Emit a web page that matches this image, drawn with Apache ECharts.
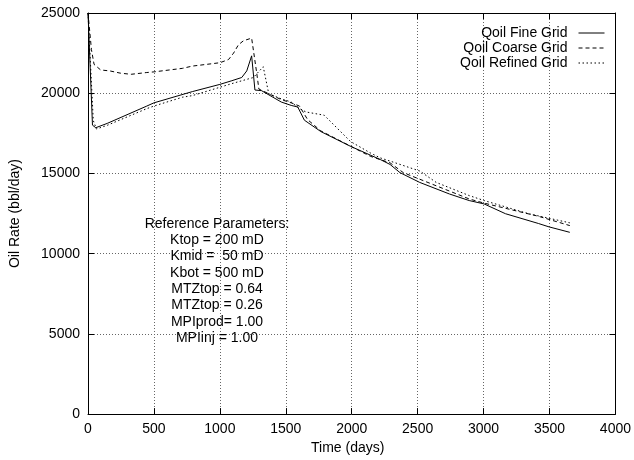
<!DOCTYPE html>
<html>
<head>
<meta charset="utf-8">
<script src="https://cdn.jsdelivr.net/npm/echarts@6/dist/echarts.min.js"></script>
<style>html,body{margin:0;padding:0;background:#fff}#c{width:634px;height:460px}</style>
</head>
<body>
<div id="c"></div>
<script>
// ---- data ----
var xTicks = [0, 500, 1000, 1500, 2000, 2500, 3000, 3500, 4000];
var yTicks = [0, 5000, 10000, 15000, 20000, 25000];

var fineT = [0, 34, 59, 146, 446, 500, 791, 1000, 1091, 1166, 1204, 1241, 1266, 1316, 1466, 1541, 1591, 1641, 1766, 1991, 2216, 2291, 2366, 2516, 2741, 2891, 3004, 3166, 3416, 3496, 3654];
var fineQ = [25000, 18010, 17850, 18120, 19200, 19400, 20100, 20550, 20780, 20980, 21390, 22330, 20200, 20160, 19450, 19240, 19140, 18320, 17610, 16690, 15870, 15560, 15050, 14440, 13720, 13310, 13100, 12490, 11880, 11670, 11330];

var coarseT = [0, 26, 46, 96, 166, 246, 327, 446, 500, 716, 791, 1000, 1066, 1104, 1141, 1179, 1241, 1279, 1296, 1350, 1466, 1541, 1604, 1666, 1766, 1991, 2141, 2291, 2391, 2516, 2891, 3004, 3416, 3654];
var coarseQ = [25000, 22720, 21800, 21450, 21390, 21250, 21180, 21290, 21330, 21550, 21690, 21900, 22100, 22500, 23020, 23270, 23435, 21290, 20260, 20050, 19600, 19400, 19200, 18350, 17650, 16700, 16070, 15660, 15050, 14640, 13410, 13150, 12330, 11750];

var refinedT = [0, 40, 64, 146, 446, 500, 716, 791, 1000, 1091, 1254, 1329, 1371, 1466, 1541, 1604, 1654, 1791, 1841, 1991, 2141, 2216, 2291, 2516, 2641, 2891, 3004, 3341, 3654];
var refinedQ = [25000, 18300, 17770, 18000, 19040, 19200, 19750, 19850, 20370, 20600, 20980, 21650, 19960, 19650, 19450, 19040, 18830, 18630, 18220, 16990, 16280, 15970, 15770, 15150, 14440, 13620, 13310, 12490, 11920];

var seriesNames = ['Qoil Fine Grid', 'Qoil Coarse Grid', 'Qoil Refined Grid'];
var paramLines = ['Reference Parameters:', 'Ktop = 200 mD', 'Kmid =  50 mD', 'Kbot = 500 mD', 'MTZtop = 0.64', 'MTZtop = 0.26', 'MPIprod= 1.00', 'MPIinj = 1.00'];
var xName = 'Time (days)';
var yName = 'Oil Rate (bbl/day)';

function pairs(t, q) { return t.map(function (v, i) { return [v, q[i]]; }); }

var FONT = 'Liberation Sans';
var chart = echarts.init(document.getElementById('c'), null, { renderer: 'canvas' });

var gridLine = { show: true, lineStyle: { color: '#666', width: 1, type: [1, 2] } };
var axLine = { show: true, onZero: false, lineStyle: { color: '#000', width: 1 } };
var tick = { show: true, inside: true, length: 6, lineStyle: { color: '#000' } };
var lbl = { color: '#000', fontFamily: FONT, fontSize: 14, formatter: function (v) { return String(v); } };

var styles = [
  { color: '#000', width: 1, type: 'solid' },
  { color: '#000', width: 1, type: [4, 3] },
  { color: '#000', width: 1, type: [1.5, 2.5] }
];
var datas = [pairs(fineT, fineQ), pairs(coarseT, coarseQ), pairs(refinedT, refinedQ)];

var option = {
  animation: false,
  backgroundColor: '#fff',
  grid: { left: 84.5, right: 16, top: 13, bottom: 40, show: false },
  xAxis: [
    { type: 'value', min: xTicks[0], max: xTicks[xTicks.length - 1], interval: 500,
      axisLine: axLine, axisTick: tick, splitLine: gridLine,
      axisLabel: Object.assign({ margin: 8 }, lbl),
      name: xName, nameLocation: 'middle', nameGap: 23,
      nameTextStyle: { color: '#000', fontFamily: FONT, fontSize: 14, padding: [0, 8, 0, 0] } },
    { type: 'value', position: 'top', min: xTicks[0], max: xTicks[xTicks.length - 1], interval: 500,
      axisLine: axLine, axisTick: tick, splitLine: { show: false }, axisLabel: { show: false } }
  ],
  yAxis: [
    { type: 'value', min: yTicks[0], max: yTicks[yTicks.length - 1], interval: 5000,
      axisLine: axLine, axisTick: tick, splitLine: gridLine,
      axisLabel: Object.assign({ margin: 8 }, lbl),
      name: yName, nameLocation: 'middle', nameGap: 66,
      nameTextStyle: { color: '#000', fontFamily: FONT, fontSize: 14 } },
    { type: 'value', position: 'right', min: yTicks[0], max: yTicks[yTicks.length - 1], interval: 5000,
      axisLine: axLine, axisTick: tick, splitLine: { show: false }, axisLabel: { show: false } }
  ],
  legend: seriesNames.map(function (n, i) {
    return {
      data: [n], right: 29, top: 26 + i * 15, align: 'right',
      itemWidth: 26, itemHeight: 14, itemGap: 0, padding: 0,
      itemStyle: { opacity: 0 },
      lineStyle: { width: 1 },
      textStyle: { color: '#000', fontFamily: FONT, fontSize: 14, padding: [0, 6, 0, 0] },
      selectedMode: false
    };
  }),
  graphic: paramLines.map(function (s, i) {
    return {
      type: 'text', x: 217, y: 224 + i * 16.3, z: 10,
      style: { text: s, align: 'center', verticalAlign: 'middle', fill: '#000', font: '14px "Liberation Sans"' }
    };
  }),
  series: seriesNames.map(function (n, i) {
    return {
      name: n, type: 'line', data: datas[i], showSymbol: false, symbol: 'none',
      lineStyle: styles[i], itemStyle: { color: '#000' }, clip: true, z: 3 - i
    };
  })
};
chart.setOption(option);
</script>
</body>
</html>
